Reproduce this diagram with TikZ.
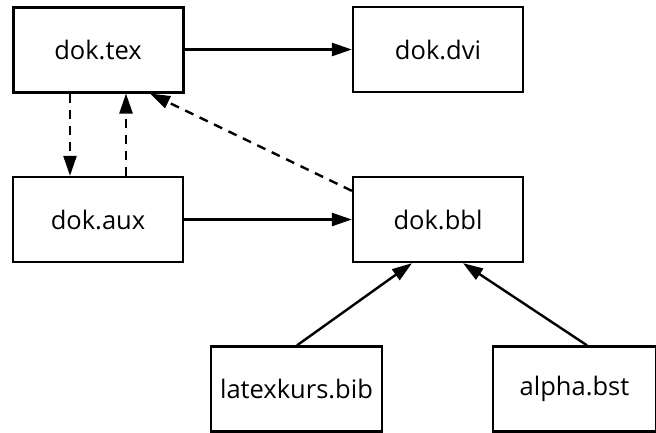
\documentclass[tikz,border=0pt]{standalone}
\usepackage{fontspec}
\setmainfont{Open Sans}
\usetikzlibrary{arrows.meta}
\begin{document}
\begin{tikzpicture}[x=1pt,y=-1pt,
  filebox/.style={draw,line width=2.3pt,minimum width=170pt,minimum height=85pt,inner sep=0pt,font=\fontsize{25.5}{28}\selectfont},
  conn/.style={line width=2.4pt,-{Triangle[length=20pt,width=13pt]}},
  dconn/.style={conn,dash pattern=on 9pt off 7pt}]
\useasboundingbox (0,0) rectangle (656,432);
\node[filebox,line width=3pt] (tex) at (98,49.5) {dok.tex};
\node[filebox] (dvi) at (438,49.5) {dok.dvi};
\node[filebox] (aux) at (98,219.5) {dok.aux};
\node[filebox] (bbl) at (438,219.5) {dok.bbl};
\node[filebox,minimum width=171pt] (bib) at (296.5,389) {latexkurs.bib};
\node[filebox,minimum width=163pt] (bst) at (574.5,389) {alpha.bst};
\draw[conn] (tex) -- (dvi);
\draw[conn] (aux) -- (bbl);
\draw[dconn] (tex.south -| 70,0) -- (aux.north -| 70,0);
\draw[dconn] (aux.north -| 126,0) -- (tex.south -| 126,0);
\path (bbl.north west) ++(0,15) coordinate (b1);
\draw[dconn] (b1) -- (tex.south -| 150,0);
\draw[conn] (bib.north -| 297,0) -- (bbl.south -| 412,0);
\draw[conn] (bst.north -| 587,0) -- (bbl.south -| 463,0);
\end{tikzpicture}
\end{document}
